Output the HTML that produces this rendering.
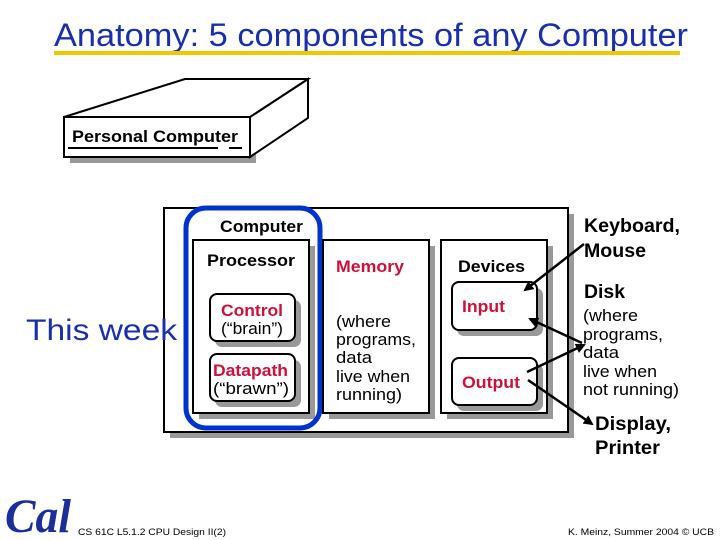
<!DOCTYPE html>
<html><head><meta charset="utf-8"><style>
html,body{margin:0;padding:0;background:#fff;}
svg{display:block;font-family:"Liberation Sans",Arial,sans-serif;}
</style></head><body>
<svg width="720" height="540" viewBox="0 0 720 540" xmlns="http://www.w3.org/2000/svg">
<defs>
<marker id="ah" markerWidth="10" markerHeight="10" refX="8" refY="5" orient="auto" markerUnits="userSpaceOnUse">
<path d="M0,0 L10,5 L0,10 Z" fill="#000"/>
</marker>
</defs>
<text x="54" y="46" font-size="32" fill="#1a2fb0" textLength="634" lengthAdjust="spacingAndGlyphs">Anatomy: 5 components of any Computer</text>
<rect x="54" y="51" width="626" height="4" fill="#f0c800"/>

<rect x="70" y="123" width="186" height="40" fill="#999"/>
<polygon points="250,117 308,79 308,118 250,157" fill="#fff" stroke="#000" stroke-width="2"/>
<polygon points="64,117 185,79 308,79 250,117" fill="#fff" stroke="#000" stroke-width="2"/>
<rect x="64" y="117" width="186" height="40" fill="#fff" stroke="#000" stroke-width="2"/>
<text x="72" y="142" font-size="17" font-weight="bold" textLength="166" lengthAdjust="spacingAndGlyphs">Personal Computer</text>
<line x1="68" y1="148" x2="218" y2="148" stroke="#000" stroke-width="2"/>
<line x1="229" y1="148" x2="242" y2="148" stroke="#000" stroke-width="2"/>

<rect x="170" y="214" width="404" height="224" fill="#999"/>
<rect x="164" y="208" width="404" height="224" fill="#fff" stroke="#000" stroke-width="2"/>

<rect x="199" y="246" width="116" height="173" fill="#999"/>
<rect x="193" y="240" width="116" height="173" fill="#fff" stroke="#000" stroke-width="2"/>
<text x="207" y="266" font-size="17" font-weight="bold" textLength="88" lengthAdjust="spacingAndGlyphs">Processor</text>
<rect x="215" y="300" width="86" height="47" rx="7" fill="#999"/>
<rect x="210" y="294" width="85" height="47" rx="7" fill="#fff" stroke="#000" stroke-width="2"/>
<text x="221" y="316" font-size="17" font-weight="bold" fill="#d0103a" textLength="62" lengthAdjust="spacingAndGlyphs">Control</text>
<text x="221" y="334" font-size="17" textLength="62" lengthAdjust="spacingAndGlyphs">(“brain”)</text>
<rect x="215" y="360" width="86" height="47" rx="7" fill="#999"/>
<rect x="210" y="354" width="85" height="47" rx="7" fill="#fff" stroke="#000" stroke-width="2"/>
<text x="213" y="376" font-size="17" font-weight="bold" fill="#d0103a" textLength="75" lengthAdjust="spacingAndGlyphs">Datapath</text>
<text x="213" y="394" font-size="17" textLength="76" lengthAdjust="spacingAndGlyphs">(“brawn”)</text>

<rect x="186" y="208" width="134" height="220" rx="20" fill="none" stroke="#0033cc" stroke-width="5"/>
<text x="220" y="232" font-size="17" font-weight="bold" textLength="83" lengthAdjust="spacingAndGlyphs">Computer</text>

<rect x="329" y="246" width="106" height="173" fill="#999"/>
<rect x="323" y="240" width="106" height="173" fill="#fff" stroke="#000" stroke-width="2"/>
<text x="336" y="272" font-size="17" font-weight="bold" fill="#d0103a" textLength="68" lengthAdjust="spacingAndGlyphs">Memory</text>
<g font-size="17">
<text x="336" y="327" textLength="55" lengthAdjust="spacingAndGlyphs">(where</text>
<text x="336" y="345" textLength="80" lengthAdjust="spacingAndGlyphs">programs,</text>
<text x="336" y="363" textLength="36" lengthAdjust="spacingAndGlyphs">data</text>
<text x="336" y="382" textLength="74" lengthAdjust="spacingAndGlyphs">live when</text>
<text x="336" y="400" textLength="66" lengthAdjust="spacingAndGlyphs">running)</text>
</g>

<rect x="447" y="246" width="106" height="173" fill="#999"/>
<rect x="441" y="240" width="106" height="173" fill="#fff" stroke="#000" stroke-width="2"/>
<text x="458" y="272" font-size="17" font-weight="bold" textLength="67" lengthAdjust="spacingAndGlyphs">Devices</text>
<rect x="457" y="288" width="86" height="48" rx="7" fill="#999"/>
<rect x="452" y="282" width="85" height="48" rx="7" fill="#fff" stroke="#000" stroke-width="2"/>
<text x="462" y="312" font-size="17" font-weight="bold" fill="#d0103a" textLength="43" lengthAdjust="spacingAndGlyphs">Input</text>
<rect x="457" y="364" width="86" height="47" rx="7" fill="#999"/>
<rect x="452" y="358" width="85" height="47" rx="7" fill="#fff" stroke="#000" stroke-width="2"/>
<text x="462" y="388" font-size="17" font-weight="bold" fill="#d0103a" textLength="58" lengthAdjust="spacingAndGlyphs">Output</text>

<text x="26" y="340" font-size="30" fill="#1a2fb0" textLength="151" lengthAdjust="spacingAndGlyphs">This week</text>

<g font-size="19" font-weight="bold">
<text x="584" y="232" textLength="96" lengthAdjust="spacingAndGlyphs">Keyboard,</text>
<text x="584" y="257" textLength="62" lengthAdjust="spacingAndGlyphs">Mouse</text>
<text x="584" y="298" textLength="41" lengthAdjust="spacingAndGlyphs">Disk</text>
<text x="595" y="430" textLength="76" lengthAdjust="spacingAndGlyphs">Display,</text>
<text x="595" y="454" textLength="65" lengthAdjust="spacingAndGlyphs">Printer</text>
</g>
<g font-size="17">
<text x="583" y="321" textLength="55" lengthAdjust="spacingAndGlyphs">(where</text>
<text x="583" y="340" textLength="80" lengthAdjust="spacingAndGlyphs">programs,</text>
<text x="583" y="358" textLength="36" lengthAdjust="spacingAndGlyphs">data</text>
<text x="583" y="377" textLength="74" lengthAdjust="spacingAndGlyphs">live when</text>
<text x="583" y="395" textLength="96" lengthAdjust="spacingAndGlyphs">not running)</text>
</g>

<g stroke="#000" stroke-width="2.5" fill="none">
<line x1="584" y1="244" x2="525" y2="290" marker-end="url(#ah)"/>
<line x1="582" y1="343" x2="530" y2="319" marker-end="url(#ah)"/>
<line x1="527" y1="372" x2="584" y2="345" marker-end="url(#ah)"/>
<line x1="528" y1="380" x2="592" y2="424" marker-end="url(#ah)"/>
</g>

<text x="5" y="532" font-size="48" font-weight="bold" font-style="italic" fill="#1a2f9a" font-family="Liberation Serif,serif" textLength="66" lengthAdjust="spacingAndGlyphs">Cal</text>
<text x="78" y="535" font-size="9" textLength="148" lengthAdjust="spacingAndGlyphs">CS 61C L5.1.2 CPU Design II(2)</text>
<text x="568" y="535" font-size="9" textLength="146" lengthAdjust="spacingAndGlyphs">K. Meinz, Summer 2004 © UCB</text>
</svg>
</body></html>
